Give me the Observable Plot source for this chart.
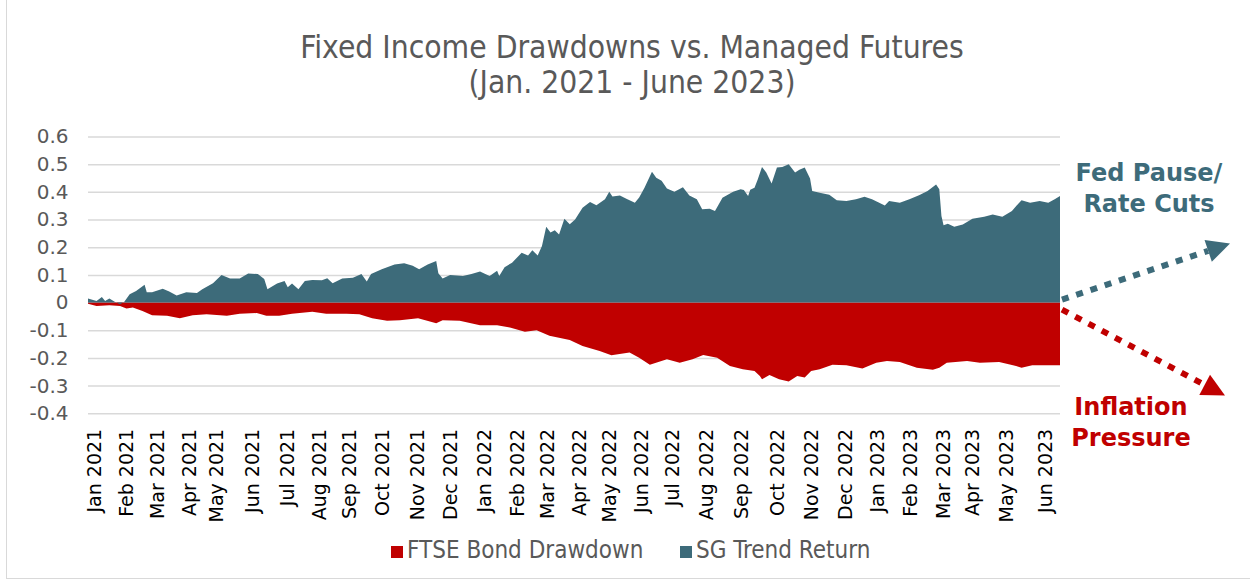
<!DOCTYPE html>
<html><head><meta charset="utf-8">
<script src="https://cdn.jsdelivr.net/npm/d3@7"></script>
<script src="https://cdn.jsdelivr.net/npm/@observablehq/plot@0.6"></script>
<style>
body{margin:0;background:#fff;}
#wrap{position:relative;width:1250px;height:581px;overflow:hidden;background:#fff;}
#frame{position:absolute;left:6px;top:-2px;width:1260px;height:581px;border:1px solid #d9d9d9;box-sizing:border-box;}
#title{position:absolute;left:0;top:30px;width:1264px;text-align:center;font-family:"DejaVu Sans Condensed","DejaVu Sans",sans-serif;font-size:31.5px;color:#595959;line-height:35px;}
#chart{position:absolute;left:0;top:110px;}
.leg{position:absolute;top:537px;font-family:"DejaVu Sans Condensed","DejaVu Sans",sans-serif;font-size:24px;color:#595959;white-space:nowrap;line-height:26px;}
.sw{display:inline-block;width:12px;height:12px;margin-right:4px;vertical-align:0px;}
</style>
</head>
<body>
<div id="wrap">
  <div id="frame"></div>
  <div id="title">Fixed Income Drawdowns vs. Managed Futures<br>(Jan. 2021 - June 2023)</div>
  <div id="chart"></div>
  <div class="leg" style="left:391px"><span class="sw" style="background:#c00000"></span>FTSE Bond Drawdown</div>
  <div class="leg" style="left:680px"><span class="sw" style="background:#3d6b7a"></span>SG Trend Return</div>
</div>
<script>
// ---- Data ----
const seriesNames = ["FTSE Bond Drawdown", "SG Trend Return"];
const seriesColors = ["#c00000", "#3d6b7a"];

const sgDates = [
"2021-01-01","2021-01-09","2021-01-14","2021-01-17","2021-01-21","2021-01-26","2021-01-31","2021-02-04","2021-02-09","2021-02-15",
"2021-02-23","2021-02-25","2021-03-02","2021-03-12","2021-03-18","2021-03-25","2021-04-03","2021-04-13","2021-04-18","2021-04-28",
"2021-05-06","2021-05-14","2021-05-23","2021-05-31","2021-06-09","2021-06-15","2021-06-18","2021-06-27","2021-07-04","2021-07-07",
"2021-07-11","2021-07-17","2021-07-23","2021-07-30","2021-08-08","2021-08-13","2021-08-18","2021-08-27","2021-09-06","2021-09-14",
"2021-09-19","2021-09-23","2021-10-03","2021-10-15","2021-10-24","2021-11-01","2021-11-07","2021-11-15","2021-11-23","2021-11-25",
"2021-11-29","2021-12-06","2021-12-18","2021-12-26","2022-01-03","2022-01-12","2022-01-19","2022-01-21","2022-01-26","2022-02-02",
"2022-02-11","2022-02-17","2022-02-21","2022-02-26","2022-03-02","2022-03-06","2022-03-10","2022-03-14","2022-03-18","2022-03-23",
"2022-03-28","2022-04-02","2022-04-09","2022-04-16","2022-04-22","2022-04-25","2022-04-30","2022-05-04","2022-05-07","2022-05-14",
"2022-05-20","2022-05-28","2022-06-01","2022-06-06","2022-06-13","2022-06-17","2022-06-22","2022-06-27","2022-07-04","2022-07-12",
"2022-07-18","2022-07-25","2022-07-30","2022-08-06","2022-08-11","2022-08-18","2022-08-28","2022-09-04","2022-09-07","2022-09-11",
"2022-09-13","2022-09-17","2022-09-20","2022-09-24","2022-09-28","2022-10-03","2022-10-08","2022-10-13","2022-10-19","2022-10-25",
"2022-10-29","2022-11-03","2022-11-08","2022-11-10","2022-11-17","2022-11-26","2022-12-03","2022-12-12","2022-12-21","2022-12-29",
"2023-01-05","2023-01-17","2023-01-21","2023-01-31","2023-02-09","2023-02-18","2023-02-26","2023-03-06","2023-03-09","2023-03-11",
"2023-03-13","2023-03-17","2023-03-23","2023-03-31","2023-04-09","2023-04-20","2023-04-28","2023-05-07","2023-05-16","2023-05-20",
"2023-05-25","2023-06-02","2023-06-11","2023-06-19","2023-06-25","2023-06-30"
];
const sgValues = [
0.015,0.006,0.020,0.006,0.015,0.003,-0.006,0.003,0.030,0.042,
0.064,0.037,0.037,0.050,0.040,0.026,0.037,0.035,0.048,0.070,
0.100,0.087,0.087,0.105,0.103,0.085,0.048,0.069,0.078,0.055,
0.069,0.048,0.078,0.082,0.081,0.088,0.070,0.087,0.090,0.103,
0.076,0.103,0.120,0.138,0.142,0.133,0.120,0.138,0.150,0.106,
0.087,0.100,0.096,0.103,0.112,0.096,0.115,0.096,0.128,0.144,
0.180,0.170,0.189,0.170,0.204,0.274,0.253,0.261,0.246,0.303,
0.283,0.300,0.343,0.363,0.352,0.360,0.373,0.400,0.383,0.387,
0.375,0.361,0.380,0.415,0.473,0.451,0.440,0.412,0.400,0.417,
0.387,0.373,0.337,0.339,0.331,0.379,0.400,0.409,0.407,0.385,
0.408,0.415,0.445,0.490,0.470,0.430,0.488,0.490,0.500,0.470,
0.480,0.488,0.448,0.403,0.397,0.390,0.370,0.367,0.373,0.382,
0.373,0.351,0.367,0.361,0.373,0.388,0.403,0.427,0.409,0.313,
0.279,0.285,0.274,0.282,0.303,0.310,0.318,0.310,0.331,0.349,
0.370,0.361,0.367,0.361,0.373,0.385
];

const ftseDates = [
"2021-01-01","2021-01-09","2021-01-21","2021-01-31","2021-02-06","2021-02-12","2021-02-21","2021-03-02","2021-03-16","2021-03-28",
"2021-04-09","2021-04-22","2021-05-11","2021-05-23","2021-06-08","2021-06-17","2021-06-29","2021-07-11","2021-07-30","2021-08-12",
"2021-08-31","2021-09-12","2021-09-24","2021-10-08","2021-10-20","2021-11-06","2021-11-23","2021-11-29","2021-12-15","2022-01-03",
"2022-01-19","2022-01-31","2022-02-14","2022-02-25","2022-03-09","2022-03-28","2022-04-09","2022-04-25","2022-05-06","2022-05-23",
"2022-06-01","2022-06-11","2022-06-27","2022-07-09","2022-07-21","2022-07-31","2022-08-13","2022-08-25","2022-09-06","2022-09-17",
"2022-09-22","2022-09-24","2022-10-01","2022-10-10","2022-10-19","2022-10-27","2022-11-03","2022-11-09","2022-11-17","2022-11-29",
"2022-12-12","2022-12-27","2023-01-09","2023-01-19","2023-01-31","2023-02-16","2023-03-03","2023-03-09","2023-03-16","2023-04-04",
"2023-04-16","2023-05-04","2023-05-17","2023-05-25","2023-06-04","2023-06-17","2023-06-30"
];
const ftseValues = [
-0.004,-0.012,-0.010,-0.012,-0.021,-0.018,-0.030,-0.046,-0.048,-0.057,
-0.046,-0.042,-0.048,-0.040,-0.038,-0.048,-0.048,-0.040,-0.033,-0.040,
-0.040,-0.042,-0.057,-0.066,-0.064,-0.057,-0.075,-0.064,-0.066,-0.082,
-0.082,-0.090,-0.105,-0.100,-0.120,-0.135,-0.157,-0.175,-0.190,-0.180,
-0.199,-0.225,-0.205,-0.217,-0.205,-0.189,-0.199,-0.229,-0.241,-0.247,
-0.265,-0.277,-0.262,-0.277,-0.285,-0.265,-0.271,-0.247,-0.241,-0.225,
-0.226,-0.238,-0.217,-0.211,-0.215,-0.235,-0.243,-0.235,-0.217,-0.211,
-0.217,-0.215,-0.226,-0.235,-0.226,-0.226,-0.226
];

// Category-style tick positions (one label per month, as on the source axis)
const tickDates = [
"2021-01-07","2021-02-06","2021-03-07","2021-04-06","2021-05-01","2021-06-04","2021-07-07","2021-08-06","2021-09-03","2021-10-04",
"2021-11-05","2021-12-06","2022-01-07","2022-02-07","2022-03-07","2022-04-06","2022-05-04","2022-06-03","2022-07-02","2022-08-03",
"2022-09-05","2022-10-08","2022-11-09","2022-12-11","2023-01-10","2023-02-10","2023-03-13","2023-04-09","2023-05-11","2023-06-16"
];
const yTicks = [-0.4,-0.3,-0.2,-0.1,0,0.1,0.2,0.3,0.4,0.5,0.6];

const annTop = ["Fed Pause/", "Rate Cuts"];
const annBottom = ["Inflation", "Pressure"];

// ---- Build tables ----
const sgData = sgDates.map((d,i)=>({date:new Date(d), value:sgValues[i]}));
const ftseData = ftseDates.map((d,i)=>({date:new Date(d), value:ftseValues[i]}));
const ticks = tickDates.map(d=>new Date(d));
const fmtY = d => String(Math.round(d*10)/10);

const chart = Plot.plot({
  width: 1250,
  height: 420,
  marginLeft: 88,
  marginRight: 190,
  marginTop: 26.5,
  marginBottom: 116.7,
  style: {background:"transparent", overflow:"visible", fontFamily:"DejaVu Sans"},
  x: {type:"utc", domain:[new Date("2021-01-01"), new Date("2023-06-30")]},
  y: {domain:[-0.4, 0.6]},
  marks: [
    Plot.gridY({ticks: yTicks, stroke:"#d9d9d9", strokeOpacity:1, strokeWidth:1.5}),
    Plot.axisY({ticks: yTicks, tickFormat: fmtY, tickSize:0, tickPadding:20, fontSize:20, fill:"#595959", label:null}),
    Plot.axisX({ticks: ticks, tickFormat: d3.utcFormat("%b %Y"), tickRotate:-90, tickSize:0, tickPadding:15, fontSize:19, fill:"#000", label:null}),
    Plot.areaY(ftseData, {x:"date", y:"value", fill:seriesColors[0]}),
    Plot.areaY(sgData, {x:"date", y:"value", fill:seriesColors[1]})
  ]
});
document.getElementById("chart").appendChild(chart);

// ---- Annotations (dotted arrows and labels) ----
const svg = d3.select(chart);
const xs = chart.scale("x"), ys = chart.scale("y");
const x0 = xs.apply(xs.domain[1]), y0 = ys.apply(0);
function dotArrow(x1,y1,x2,y2,color){
  const dx=x2-x1, dy=y2-y1, L=Math.hypot(dx,dy), ux=dx/L, uy=dy/L;
  const head=23, hw=11.5;
  const bx=x2-ux*head, by=y2-uy*head;
  svg.append("line").attr("x1",x1).attr("y1",y1).attr("x2",bx).attr("y2",by)
    .attr("stroke",color).attr("stroke-width",6).attr("stroke-dasharray","7,8");
  svg.append("polygon")
    .attr("points",[[x2,y2],[bx-uy*hw,by+ux*hw],[bx+uy*hw,by-ux*hw]].map(p=>p.join(",")).join(" "))
    .attr("fill",color);
}
dotArrow(x0+2, y0-3, x0+170, y0-59, seriesColors[1]);
dotArrow(x0+2, y0+7, x0+165, y0+93, seriesColors[0]);
function label(lines, cx, baseY, color){
  lines.forEach((t,i)=>{
    svg.append("text").attr("x",cx).attr("y",baseY+i*31).attr("text-anchor","middle")
      .attr("font-family","DejaVu Sans").attr("font-weight","bold").attr("font-size",24)
      .attr("fill",color).text(t);
  });
}
label(annTop, x0+89, y0-122, seriesColors[1]);
label(annBottom, x0+71, y0+112, seriesColors[0]);
</script>
</body></html>
